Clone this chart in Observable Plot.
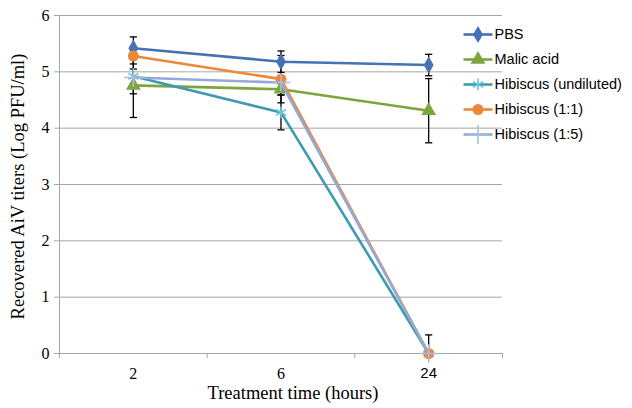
<!DOCTYPE html>
<html>
<head>
<meta charset="utf-8">
<script src="https://cdn.jsdelivr.net/npm/d3@7"></script>
<script src="https://cdn.jsdelivr.net/npm/@observablehq/plot@0.6"></script>
<style>
  html, body { margin: 0; padding: 0; background: #fff; }
  #wrap { position: relative; width: 632px; height: 408px; }
  #legend { position: absolute; left: 460px; top: 20px; }
  #legend svg, #chart svg { display: block; }
</style>
</head>
<body>
<div id="wrap"><div id="chart"></div><div id="legend"></div></div>
<script>
const categories = ["2", "6", "24"];
const series = ["PBS", "Malic acid", "Hibiscus (undiluted)", "Hibiscus (1:1)", "Hibiscus (1:5)"];
const pbs = [5.42, 5.18, 5.12];
const malic = [4.76, 4.69, 4.31];
const hibUndiluted = [4.92, 4.28, 0];
const hib11 = [5.28, 4.87, 0];
const hib15 = [4.90, 4.81, 0];
const pbsErr = [0.20, 0.19, 0.19];
const malicErr = [0.57, 0.10, 0.57];
const hibUndilutedErr = [0.31, 0.31, 0];
const hib11Err = [0.14, 0.42, 0.33];
const hib15Err = [0.15, 0.10, 0];
const yTicks = [0, 1, 2, 3, 4, 5, 6];

const values = [pbs, malic, hibUndiluted, hib11, hib15];
const errors = [pbsErr, malicErr, hibUndilutedErr, hib11Err, hib15Err];
const lineColors = ["#4472B4", "#7DA53D", "#3C9AB2", "#EC8838", "#93A9D8"];
const markColors = ["#4472B4", "#7DA53D", "#6CC5DE", "#EC8838", "#A8BCE3"];
const symbols = ["diamond", "triangle", "asterisk", "circle", "plus"];
const filled = [true, true, false, true, false];
const radii = [5.2, 5.5, 5.5, 5.5, 6];

const rows = series.flatMap((s, si) => categories.map((c, i) => ({
  series: s, si, x: i + 0.5, y: values[si][i], err: errors[si][i]
})));
const errRows = rows.filter(d => d.err > 0);

const capSymbol = {
  draw(ctx, size) {
    const r = Math.sqrt(size / Math.PI);
    ctx.moveTo(-r, 0);
    ctx.lineTo(r, 0);
  }
};

const gray = "#A6A6A6";
const serif = "Liberation Serif, Times New Roman, serif";
const sans = "Liberation Sans, Arial, sans-serif";

const seriesMarks = series.flatMap((s, si) => {
  const data = rows.filter(d => d.si === si);
  return [
    Plot.line(data, {x: "x", y: "y", stroke: lineColors[si], strokeWidth: 2.6}),
    Plot.dot(data, {
      x: "x", y: "y", symbol: symbols[si], r: radii[si],
      fill: filled[si] ? markColors[si] : "none",
      stroke: filled[si] ? "none" : markColors[si],
      strokeWidth: filled[si] ? 0 : 1.6
    })
  ];
});

const chart = Plot.plot({
  width: 632,
  height: 408,
  marginLeft: 59,
  marginRight: 130,
  marginTop: 15,
  marginBottom: 55,
  x: {domain: [0, 3], axis: null, label: null},
  y: {domain: [0, 6], axis: null, label: null},
  style: {fontFamily: serif, background: "#fff"},
  marks: [
    Plot.gridY(yTicks, {stroke: gray, strokeOpacity: 1, strokeWidth: 1}),
    Plot.ruleX([0], {y1: 0, y2: 6, stroke: gray}),
    Plot.axisY(yTicks, {tickSize: 5, tickPadding: 5, stroke: gray, fill: "#000", fontSize: 16, fontFamily: serif, tickFormat: d => String(d), label: null}),
    Plot.axisX([0, 1, 2, 3], {tickSize: 5, tickFormat: () => "", stroke: gray, label: null}),
    Plot.axisX([0.5, 1.5], {tickSize: 0, tickPadding: 14, tickFormat: d => categories[Math.floor(d)], fill: "#000", fontSize: 16, fontFamily: serif, label: null}),
    Plot.axisX([2.5], {tickSize: 0, tickPadding: 14, tickFormat: d => categories[Math.floor(d)], fill: "#000", fontSize: 15, fontFamily: sans, label: null}),
    Plot.ruleX(errRows, {x: "x", y1: d => Math.max(0, d.y - d.err), y2: d => d.y + d.err, stroke: "#000", strokeWidth: 1.3}),
    Plot.dot(errRows, {x: "x", y: d => d.y + d.err, symbol: capSymbol, r: 3.6, stroke: "#000", strokeWidth: 1.3, fill: "none"}),
    Plot.dot(errRows.filter(d => d.y - d.err >= 0), {x: "x", y: d => d.y - d.err, symbol: capSymbol, r: 3.6, stroke: "#000", strokeWidth: 1.3, fill: "none"}),
    ...seriesMarks,
    Plot.text(["Recovered AiV titers (Log PFU/ml)"], {frameAnchor: "left", textAnchor: "middle", lineAnchor: "middle", dx: -41, dy: 2, rotate: -90, fontSize: 18.5, fontFamily: serif, fill: "#000"}),
    Plot.text(["Treatment time (hours)"], {frameAnchor: "bottom", textAnchor: "middle", lineAnchor: "middle", dy: 40, dx: 12, fontSize: 18.5, fontFamily: serif, fill: "#000"})
  ]
});
document.getElementById("chart").append(chart);

const legendMarks = series.flatMap((s, si) => [
  Plot.link([s], {x1: 0, x2: 1, y1: d => d, y2: d => d, stroke: lineColors[si], strokeWidth: 2.6}),
  Plot.dot([s], {
    x: 0.5, y: d => d, symbol: symbols[si], r: radii[si],
    fill: filled[si] ? markColors[si] : "none",
    stroke: filled[si] ? "none" : markColors[si],
    strokeWidth: filled[si] ? 0 : 1.6
  })
]);

const legend = Plot.plot({
  width: 172,
  height: 130,
  margin: 0,
  x: {domain: [0, 1], range: [3, 32], axis: null},
  y: {type: "point", domain: series, range: [13, 115], padding: 0, axis: null},
  marks: [
    ...legendMarks,
    Plot.text(series, {x: 1, y: d => d, text: d => d, textAnchor: "start", dx: 2, fontSize: 14.5, fontFamily: sans, fill: "#000"})
  ]
});
document.getElementById("legend").append(legend);
</script>
</body>
</html>
